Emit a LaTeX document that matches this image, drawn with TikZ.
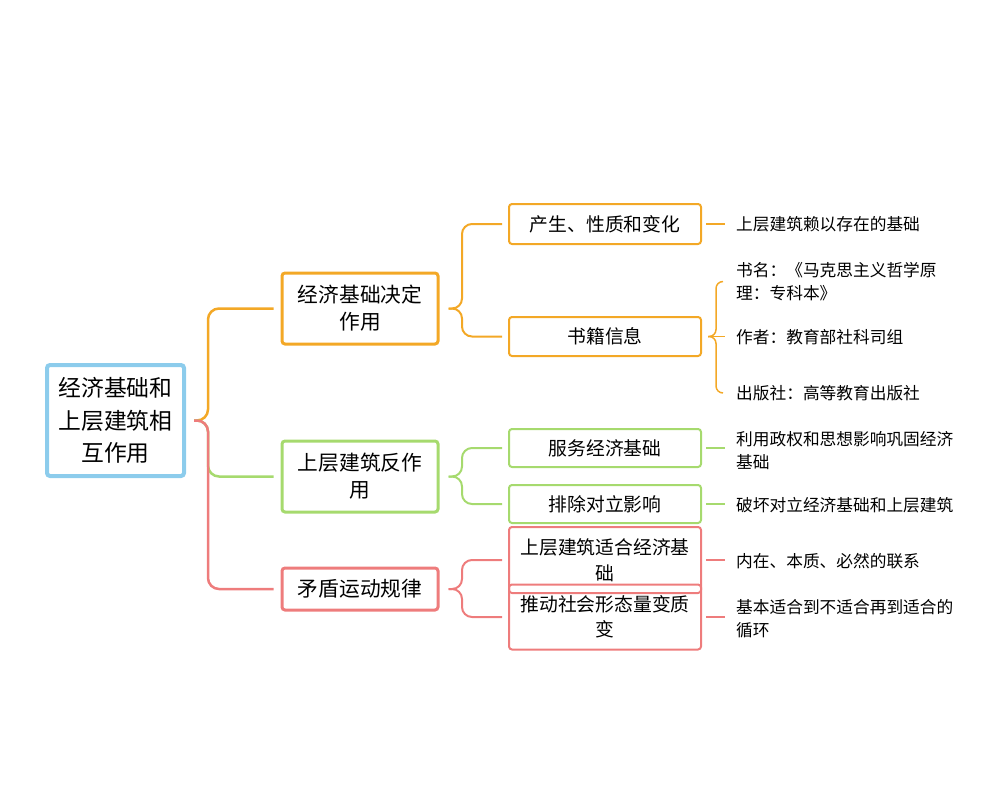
\documentclass[tikz,border=0pt]{standalone}
\usepackage{fontspec}
\setmainfont{Noto Sans CJK SC}
\usetikzlibrary{calc}
\definecolor{cBl}{RGB}{140,204,236}
\definecolor{cOr}{RGB}{243,168,38}
\definecolor{cGr}{RGB}{166,218,110}
\definecolor{cRd}{RGB}{238,124,124}
\tikzset{
  rootbox/.style={draw=cBl, line width=4pt, rounded corners=3pt, minimum width=137pt, minimum height=111pt, align=center, inner sep=0pt, font=\fontsize{22.8}{32.5}\selectfont},
  lonebox/.style={draw=#1, line width=3pt, rounded corners=3pt, minimum width=156pt, align=center, inner sep=0pt, font=\fontsize{20.7}{27}\selectfont},
  ltwobox/.style={draw=#1, line width=2pt, rounded corners=3pt, minimum width=192pt, align=center, inner sep=0pt, font=\fontsize{18.8}{25.5}\selectfont},
  leaftext/.style={anchor=west, align=left, inner sep=0pt, font=\fontsize{16.7}{23}\selectfont},
  linkA/.style={draw=#1, line width=2.5pt, rounded corners=11pt, shorten <=8pt, shorten >=7pt},
  linkB/.style={draw=#1, line width=2pt, rounded corners=10pt, shorten <=9pt, shorten >=6pt},
  linkC/.style={draw=#1, line width=1.5pt, shorten <=4pt, shorten >=11pt},
  linkD/.style={draw=#1, line width=1.5pt, rounded corners=7pt, shorten <=6pt, shorten >=13pt}
}
\begin{document}
\begin{tikzpicture}[x=1pt,y=-1pt]
\useasboundingbox (0,0) rectangle (1000,800);
% root
\node[rootbox] (root) at (115.5,420.5) {经济基础和\\上层建筑相\\互作用};
% level 1
\node[lonebox=cOr, minimum height=71pt] (ja) at (360,308.5) {经济基础决定\\作用};
\node[lonebox=cGr, minimum height=71pt] (jb) at (360,476.5) {上层建筑反作\\用};
\node[lonebox=cRd, minimum height=42pt] (jc) at (360,589) {矛盾运动规律};
% level 2
\node[ltwobox=cOr, minimum height=40pt] (ka) at (605,224) {产生、性质和变化};
\node[ltwobox=cOr, minimum height=39pt] (kb) at (605,336.5) {书籍信息};
\node[ltwobox=cGr, minimum height=38pt] (kc) at (605,448) {服务经济基础};
\node[ltwobox=cGr, minimum height=38pt] (kd) at (605,504) {排除对立影响};
\node[ltwobox=cRd, minimum height=66pt] (ke) at (605,560) {上层建筑适合经济基\\础};
\node[ltwobox=cRd, minimum height=65pt] (kf) at (605,617) {推动社会形态量变质\\变};
% leaves
\node[leaftext] (la) at (736,224) {上层建筑赖以存在的基础};
\node[leaftext] (lb) at (736,281.5) {书名：《马克思主义哲学原\\理：专科本》};
\node[leaftext] (lc) at (736,337) {作者：教育部社科司组};
\node[leaftext] (ld) at (736,393) {出版社：高等教育出版社};
\node[leaftext] (le) at (736,451) {利用政权和思想影响巩固经济\\基础};
\node[leaftext] (lf) at (736,505) {破坏对立经济基础和上层建筑};
\node[leaftext] (lg) at (736,561) {内在、本质、必然的联系};
\node[leaftext] (lh) at (736,618.5) {基本适合到不适合再到适合的\\循环};
% junctions
\coordinate (rj) at (208,420.5);
\coordinate (jaj) at (462,308.5);
\coordinate (jbj) at (462,476.5);
\coordinate (jcj) at (462,589);
\coordinate (bj) at (716,336.5);
% root connectors
\draw[linkA=cOr] (root.east) -- (rj) |- (ja.west);
\draw[linkA=cGr] (root.east) -- (rj) |- (jb.west);
\draw[linkA=cRd] (root.east) -- (rj) |- (jc.west);
% level 1 connectors
\draw[linkB=cOr] (ja.east) -- (jaj) |- (ka.west);
\draw[linkB=cOr] (ja.east) -- (jaj) |- (kb.west);
\draw[linkB=cGr] (jb.east) -- (jbj) |- (kc.west);
\draw[linkB=cGr] (jb.east) -- (jbj) |- (kd.west);
\draw[linkB=cRd] (jc.east) -- (jcj) |- (ke.west);
\draw[linkB=cRd] (jc.east) -- (jcj) |- (kf.west);
% level 2 connectors
\draw[linkC=cOr] (ka.east) -- (ka.east -| la.west);
\draw[linkC=cOr, shorten <=6pt] (kb.east) -- (kb.east -| lc.west);
\draw[linkD=cOr] (kb.east) -- (bj) |- (lb.west);
\draw[linkD=cOr] (kb.east) -- (bj) |- (ld.west);
\draw[linkC=cGr] (kc.east) -- (kc.east -| le.west);
\draw[linkC=cGr] (kd.east) -- (kd.east -| lf.west);
\draw[linkC=cRd] (ke.east) -- (ke.east -| lg.west);
\draw[linkC=cRd] (kf.east) -- (kf.east -| lh.west);
\end{tikzpicture}
\end{document}
